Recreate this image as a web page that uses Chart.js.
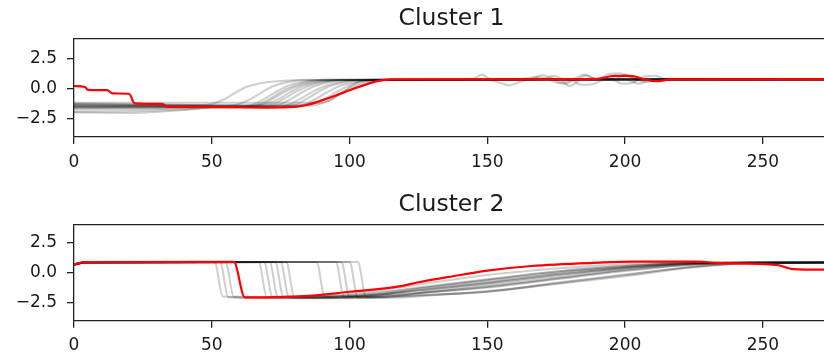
<!DOCTYPE html>
<html><head><meta charset="utf-8">
<script src="https://cdn.jsdelivr.net/npm/chart.js@4.4.1/dist/chart.umd.min.js"></script>
<style>
html,body{margin:0;padding:0;background:#fff;overflow:hidden;width:824px;height:358px;position:relative}
.box{position:absolute;left:0}
</style></head><body>
<div class="box" style="top:0"><canvas id="c1" width="840" height="180"></canvas></div>
<div class="box" style="top:180px"><canvas id="c2" width="840" height="178"></canvas></div>
<script>
// ---- data (x, y) ----
const xMax = 274;
const xTicks = [0, 50, 100, 150, 200, 250];
const yTicks = [-2.5, 0, 2.5];
const titles = ["Cluster 1", "Cluster 2"];

// Cluster 1: centroid (red)
const c1Red = [[0,0.2],[4,0.12],[5,-0.12],[12,-0.15],[14,-0.42],[20,-0.45],[22,-1.25],[32,-1.3],[34,-1.55],[50,-1.55],[70,-1.6],[80,-1.55],[85,-1.35],[90,-1.0],[95,-0.6],[100,-0.15],[105,0.25],[110,0.6],[115,0.75],[150,0.75],[190,0.8],[196,1.05],[202,1.05],[207,0.75],[211,0.6],[217,0.75],[274,0.78]];
// Cluster 1: members (grey)
const c1Gray = [
  [[0,-1.25],[25,-1.3],[47,-1.4],[51,-1.25],[55,-0.85],[59,-0.3],[63,0.15],[68,0.45],[75,0.62],[88,0.72],[140,0.75],[145,0.8],[148,1.15],[151,0.8],[160,0.75],[274,0.75]],
  [[0,-1.95],[20,-1.9],[40,-1.75],[55,-1.55],[62,-1.5],[66,-1.25],[70,-0.75],[74,-0.2],[78,0.25],[83,0.55],[92,0.72],[150,0.75],[154,0.5],[158,0.25],[162,0.55],[166,0.75],[274,0.72]],
  [[0,-1.5],[60,-1.55],[66,-1.4],[70,-1.0],[74,-0.45],[78,0.05],[83,0.45],[90,0.68],[165,0.75],[170,1.1],[174,0.8],[178,0.35],[182,0.75],[274,0.75]],
  [[0,-1.35],[66,-1.45],[71,-1.25],[75,-0.8],[79,-0.25],[83,0.2],[88,0.5],[96,0.7],[172,0.75],[176,0.45],[181,0.7],[185,1.15],[189,0.8],[274,0.78]],
  [[0,-1.6],[70,-1.55],[75,-1.3],[79,-0.85],[83,-0.3],[87,0.15],[92,0.5],[100,0.7],[190,0.75],[194,1.2],[198,1.25],[203,0.8],[208,0.55],[212,0.75],[274,0.75]],
  [[0,-1.75],[30,-1.7],[50,-1.55],[74,-1.55],[78,-1.35],[82,-0.9],[86,-0.35],[90,0.1],[95,0.45],[103,0.68],[180,0.75],[184,0.3],[188,0.35],[193,0.75],[274,0.72]],
  [[0,-1.45],[77,-1.5],[81,-1.3],[85,-0.8],[89,-0.25],[93,0.2],[98,0.5],[106,0.7],[160,0.72],[168,0.95],[175,0.7],[274,0.75]],
  [[0,-1.55],[80,-1.5],[84,-1.3],[88,-0.85],[92,-0.3],[96,0.15],[101,0.48],[108,0.68],[195,0.75],[199,0.4],[203,0.5],[207,1.0],[211,1.05],[215,0.75],[274,0.75]],
  [[0,-1.3],[40,-1.4],[84,-1.4],[88,-1.2],[92,-0.75],[96,-0.2],[100,0.25],[104,0.55],[110,0.72],[182,0.75],[186,1.1],[190,0.75],[274,0.75]],
  [[0,-1.2],[90,-1.2],[93,-1.0],[97,-0.4],[101,0.25],[104,0.6],[108,0.72],[274,0.75]],
  [[0,-2.0],[20,-2.05],[40,-1.8],[50,-1.6],[64,-1.55],[68,-1.35],[72,-0.9],[76,-0.35],[80,0.1],[85,0.45],[93,0.68],[170,0.75],[174,1.05],[178,0.75],[274,0.75]],
  [[0,-1.4],[56,-1.45],[60,-1.3],[64,-0.9],[68,-0.35],[72,0.15],[77,0.5],[85,0.7],[196,0.75],[200,1.15],[204,0.75],[274,0.75]],
  [[0,-1.65],[50,-1.6],[68,-1.55],[72,-1.35],[76,-0.9],[80,-0.35],[84,0.1],[89,0.45],[97,0.7],[176,0.72],[180,0.2],[184,0.7],[274,0.75]],
  [[0,-1.5],[86,-1.45],[90,-1.25],[94,-0.8],[98,-0.25],[102,0.2],[106,0.52],[112,0.7],[200,0.75],[205,0.4],[210,0.75],[274,0.75]]
];

// Cluster 2: centroid (red)
const c2Red = [[0,0.7],[4,0.88],[58,0.9],[62,-2.07],[75,-2.05],[85,-1.95],[100,-1.6],[118,-1.15],[125,-0.8],[135,-0.4],[150,0.17],[166,0.56],[190,0.84],[203,0.93],[227,0.93],[233,0.82],[255,0.65],[261,0.3],[274,0.25]];
// Cluster 2: members (grey)
const c2Gray = [
  [[0,0.7],[4,0.85],[51,0.9],[54,-2.0],[70,-2.1],[100,-2.0],[125,-1.5],[150,-0.9],[175,-0.2],[200,0.4],[225,0.75],[245,0.85],[274,0.85]],
  [[0,0.65],[4,0.85],[53,0.9],[56,-2.05],[80,-2.15],[100,-2.1],[125,-1.9],[150,-1.6],[175,-0.9],[200,-0.2],[225,0.5],[245,0.8],[274,0.85]],
  [[0,0.7],[4,0.85],[55,0.88],[58,-2.0],[80,-2.05],[100,-1.95],[125,-1.3],[150,-0.6],[175,0.1],[200,0.55],[225,0.8],[274,0.85]],
  [[0,0.7],[4,0.85],[67,0.9],[70,-2.05],[85,-2.1],[100,-2.05],[125,-1.7],[150,-1.2],[175,-0.5],[200,0.2],[225,0.7],[245,0.85],[274,0.85]],
  [[0,0.7],[4,0.88],[69,0.9],[72,-2.0],[85,-2.0],[100,-1.8],[125,-1.0],[150,-0.2],[175,0.35],[200,0.7],[225,0.85],[274,0.85]],
  [[0,0.7],[4,0.85],[71,0.9],[74,-2.05],[90,-2.05],[100,-2.0],[125,-1.5],[150,-0.85],[175,-0.15],[200,0.4],[225,0.78],[274,0.85]],
  [[0,0.7],[4,0.85],[73,0.9],[76,-2.0],[90,-2.0],[100,-1.9],[125,-1.25],[150,-0.55],[175,0.1],[200,0.55],[225,0.82],[274,0.85]],
  [[0,0.65],[4,0.85],[75,0.9],[78,-2.1],[90,-2.15],[110,-2.1],[130,-1.85],[150,-1.6],[175,-0.85],[200,-0.15],[225,0.5],[245,0.82],[274,0.85]],
  [[0,0.7],[4,0.85],[77,0.9],[80,-2.05],[95,-2.1],[110,-1.95],[130,-1.6],[150,-1.15],[175,-0.45],[200,0.25],[225,0.72],[274,0.85]],
  [[0,0.7],[4,0.88],[88,0.9],[91,-2.0],[100,-2.0],[125,-1.45],[150,-0.8],[175,-0.1],[200,0.45],[225,0.8],[274,0.85]],
  [[0,0.7],[4,0.85],[95,0.9],[98,-2.05],[110,-2.05],[130,-1.65],[150,-1.25],[175,-0.55],[200,0.15],[225,0.68],[245,0.85],[274,0.85]],
  [[0,0.7],[4,0.85],[97,0.9],[100,-2.0],[110,-1.9],[125,-1.35],[150,-0.65],[175,0.0],[200,0.5],[225,0.8],[274,0.85]],
  [[0,0.65],[4,0.85],[100,0.9],[103,-2.1],[115,-2.1],[130,-1.9],[150,-1.55],[175,-0.95],[200,-0.3],[225,0.45],[248,0.82],[274,0.85]],
  [[0,0.7],[4,0.85],[103,0.9],[106,-2.05],[115,-2.0],[130,-1.55],[150,-1.0],[175,-0.3],[200,0.35],[225,0.75],[274,0.85]]
];

const FONT = "'DejaVu Sans', sans-serif";
const fmt = v => (v < 0 ? '\u2212' : '') + Math.abs(v).toFixed(1);
const toXY = pts => pts.map(p => ({x: p[0], y: p[1]}));

function makeChart(id, title, gray, red, yMin, yMax, titlePad, xAxisH) {
  const datasets = [{
    data: toXY(red), borderColor: 'rgb(255,0,0)', borderWidth: 2.2,
    pointRadius: 0, cubicInterpolationMode: 'monotone', fill: false
  }].concat(gray.map(g => ({
    data: toXY(g), borderColor: 'rgba(0,0,0,0.19)', borderWidth: 2.1,
    pointRadius: 0, cubicInterpolationMode: 'monotone', fill: false
  })));
  return new Chart(document.getElementById(id), {
    type: 'line',
    data: {datasets},
    options: {
      responsive: false, animation: false, events: [],
      layout: {padding: {left: 0, right: 11, top: 0, bottom: 0}},
      plugins: {
        legend: {display: false}, tooltip: {enabled: false},
        title: {display: true, text: title, fullSize: false, color: '#1a1a1a',
          font: {family: FONT, size: 23.5, weight: 'normal'},
          padding: titlePad}
      },
      scales: {
        x: {type: 'linear', min: 0, max: xMax,
          afterBuildTicks: s => { s.ticks = xTicks.map(v => ({value: v})); },
          afterFit: s => { s.height = xAxisH; },
          ticks: {color: '#1a1a1a', font: {family: FONT, size: 17}, padding: 8, maxRotation: 0},
          grid: {display: true, drawOnChartArea: false, drawTicks: true, tickLength: 7, color: '#222', lineWidth: 1.3},
          border: {display: true, color: '#222', width: 1.3}},
        xTop: {type: 'linear', position: 'top', min: 0, max: xMax,
          afterFit: s => { s.height = 0; },
          ticks: {display: false}, grid: {display: false, drawTicks: false},
          border: {display: true, color: '#222', width: 1.3}},
        y: {type: 'linear', min: yMin, max: yMax,
          afterBuildTicks: s => { s.ticks = yTicks.map(v => ({value: v})); },
          afterFit: s => { s.width = 74; },
          ticks: {color: '#1a1a1a', font: {family: FONT, size: 17}, padding: 10, callback: fmt},
          grid: {display: true, drawOnChartArea: false, drawTicks: true, tickLength: 7, color: '#222', lineWidth: 1.3},
          border: {display: true, color: '#222', width: 1.3}}
      }
    }
  });
}

makeChart('c1', titles[0], c1Gray, c1Red, -4.06, 4.19, {top: 5, bottom: 5}, 43);
makeChart('c2', titles[1], c2Gray, c2Red, -4.03, 4.07, {top: 11, bottom: 5}, 37.3);
</script>
</body></html>
